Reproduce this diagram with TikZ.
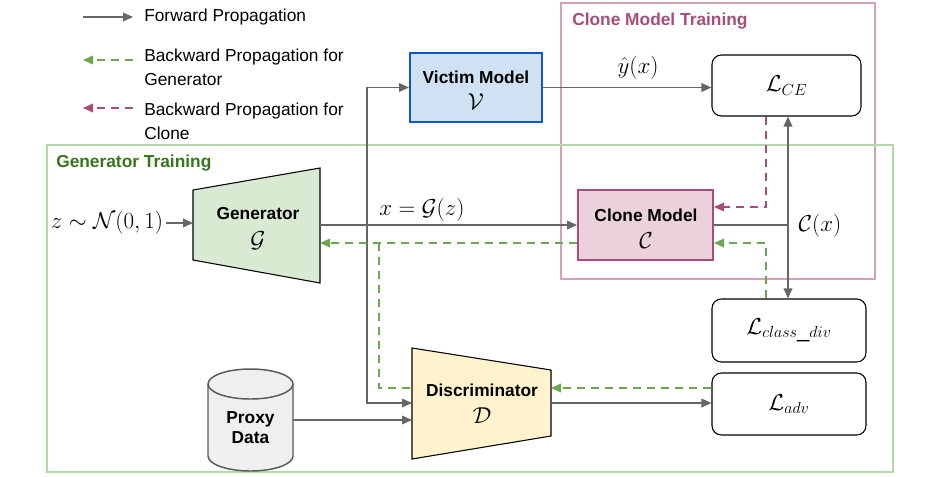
\documentclass[tikz,border=0pt]{standalone}
\usepackage[no-math]{fontspec}
\setmainfont{Liberation Sans}
\usetikzlibrary{arrows.meta}
\definecolor{lineg}{HTML}{666666}
\definecolor{bgreen}{HTML}{6AA84F}
\definecolor{bpurp}{HTML}{A64D79}
\definecolor{gframe}{HTML}{B6D7A8}
\definecolor{pframe}{HTML}{CFA2BA}
\definecolor{gtitle}{HTML}{38761D}
\definecolor{ptitle}{HTML}{A64D79}
\definecolor{vfill}{HTML}{CFE2F3}
\definecolor{vdraw}{HTML}{1155CC}
\definecolor{cfill}{HTML}{EAD1DC}
\definecolor{gfill}{HTML}{D9EAD3}
\definecolor{dfill}{HTML}{FFF2CC}
\definecolor{pfill}{HTML}{EFEFEF}
\definecolor{cyldraw}{HTML}{595959}
\tikzset{
  tip/.style={-{Triangle[length=7.5pt,width=6.5pt]}},
  fwd/.style={draw=lineg, line width=1.1pt, tip},
  fline/.style={draw=lineg, line width=1.1pt},
  bwdg/.style={draw=bgreen, line width=1.1pt, dash pattern=on 6pt off 4.5pt, tip},
  bwdgn/.style={draw=bgreen, line width=1.1pt, dash pattern=on 6pt off 4.5pt},
  bwdp/.style={draw=bpurp, line width=1.1pt, dash pattern=on 6pt off 4.5pt, tip},
  frame/.style={line width=0.8pt},
  lossbox/.style={draw=black, line width=0.8pt, rounded corners=7pt, inner sep=0pt},
  modelbox/.style={line width=1.5pt, inner sep=0pt},
  ghost/.style={inner sep=0pt, outer sep=0pt},
  lbl/.style={inner sep=0pt, font=\fontsize{13}{15.6}\selectfont\bfseries},
  mth/.style={inner sep=0pt, font=\fontsize{16.5}{19}\selectfont},
  legtxt/.style={inner sep=0pt, anchor=west, align=left, font=\fontsize{13}{18}\selectfont},
  title/.style={inner sep=0pt, anchor=west, font=\fontsize{13}{15.6}\selectfont\bfseries},
}
\begin{document}
\begin{tikzpicture}[x=0.75pt,y=-0.75pt]
\useasboundingbox (0,0) rectangle (942,476);

% frames
\draw[frame, draw=pframe] (561,3) rectangle (875,279);
\draw[frame, draw=gframe] (47,145) rectangle (893,472);
\node[title, text=ptitle] (ptit) at (572,21) {Clone Model Training};
\node[title, text=gtitle] (gtit) at (56,163) {Generator Training};

% legend
\coordinate (lf1) at (83,17); \coordinate (lf2) at (133,17);
\draw[fwd] (lf1) -- (lf2);
\node[legtxt] (legf) at (144,17) {Forward Propagation};
\coordinate (lg1) at (133,60); \coordinate (lg2) at (83,60);
\draw[bwdg] (lg1) -- (lg2);
\node[legtxt] (legg) at (144,67) {Backward Propagation for\\Generator};
\coordinate (lp1) at (133,108); \coordinate (lp2) at (83,108);
\draw[bwdp] (lp1) -- (lp2);
\node[legtxt] (legp) at (144,121) {Backward Propagation for\\Clone};

% generator trapezoid
\draw[fill=gfill, draw=black, line width=0.8pt] (193,190) -- (320,168) -- (320,283) -- (193,260) -- cycle;
\node[ghost, minimum width=95.25pt, minimum height=86.25pt] (gen) at (256.5,225) {};
\node[lbl] (gent) at (258,214) {Generator};
\node[mth] (gens) at (258,241) {$\mathcal{G}$};

% discriminator trapezoid
\draw[fill=dfill, draw=black, line width=0.8pt] (412,348) -- (551,370) -- (551,436) -- (412,459) -- cycle;
\node[ghost, minimum width=104.25pt, minimum height=83.25pt] (disc) at (481.5,403.5) {};
\node[lbl] (disct) at (482,390) {Discriminator};
\node[mth] (discs) at (482,416) {$\mathcal{D}$};

% proxy data cylinder
\draw[fill=pfill, draw=cyldraw, line width=1.1pt]
  (208,384) -- (208,456) arc[start angle=180, end angle=0, x radius=42.5, y radius=15]
  -- (293,384) arc[start angle=0, end angle=-180, x radius=42.5, y radius=15] -- cycle;
\draw[draw=cyldraw, line width=1.1pt] (208,384) arc[start angle=180, end angle=0, x radius=42.5, y radius=15];
\node[ghost, minimum width=63.75pt, minimum height=76.5pt] (proxy) at (250.5,420) {};
\node[lbl, align=center, font=\fontsize{13}{15}\selectfont\bfseries] (proxyt) at (250.5,428) {Proxy\\Data};

% model boxes
\node[modelbox, fill=vfill, draw=vdraw, minimum width=99pt, minimum height=51.75pt] (victim) at (476,87.5) {};
\node[lbl] (victt) at (476,77) {Victim Model};
\node[mth] (victs) at (476,102) {$\mathcal{V}$};
\node[modelbox, fill=cfill, draw=bpurp, minimum width=101.25pt, minimum height=52.5pt] (clone) at (645.5,225) {};
\node[lbl] (clonet) at (646,215) {Clone Model};
\node[mth] (clones) at (646,241) {$\mathcal{C}$};

% loss boxes
\node[lossbox, minimum width=111.75pt, minimum height=45.75pt, font=\fontsize{16.5}{19}\selectfont] (lce) at (786.5,85.5) {$\mathcal{L}_{CE}$};
\node[lossbox, minimum width=115.5pt, minimum height=47.25pt, font=\fontsize{16.5}{19}\selectfont] (lcd) at (789,330.5) {$\mathcal{L}_{class\_div}$};
\node[lossbox, minimum width=115.5pt, minimum height=46.5pt, font=\fontsize{16.5}{19}\selectfont] (ladv) at (789,404) {$\mathcal{L}_{adv}$};

% math labels
\node[mth] (zlbl) at (107,223) {$z\sim\mathcal{N}(0,1)$};
\node[mth] (xlbl) at (422,210) {$x=\mathcal{G}(z)$};
\node[mth] (ylbl) at (638,68) {$\hat{y}(x)$};
\node[mth] (cxlbl) at (820,226) {$\mathcal{C}(x)$};

% forward connectors
\coordinate (split) at (367,225);
\coordinate (dinA) at (412,403);
\coordinate (pin) at (412,420);
\coordinate (dout) at (551,403);
\coordinate (cx) at (788,225);
\draw[fwd] (zlbl.east) ++(3,0) -- (zlbl.east -| gen.west);
\draw[fwd] (gen.east) -- (clone.west);
\draw[fwd] (split) |- (victim.west);
\draw[fwd] (split) |- (dinA);
\draw[fwd] (victim.east) -- (victim.east -| lce.west);
\draw[fwd] (proxy.east |- pin) -- (pin);
\draw[fwd] (dout) -- (ladv.west |- dout);
\draw[fline] (clone.east) -- (cx);
\draw[fwd] (cx) -- (cx |- lce.south);
\draw[fwd] (cx) -- (cx |- lcd.north);

% backward connectors
\coordinate (pcol) at (766,207);
\coordinate (gcol) at (766,243);
\coordinate (gleft) at (379,243);
\coordinate (dinG) at (412,388);
\coordinate (doutg) at (551,388);
\draw[bwdp] (lce.south -| pcol) |- (clone.east |- pcol);
\draw[bwdg] (lcd.north -| gcol) |- (clone.east |- gcol);
\draw[bwdg] (clone.west |- gcol) -- (gen.east |- gcol);
\draw[bwdgn] (gleft) |- (dinG);
\draw[bwdg] (ladv.west |- doutg) -- (doutg);
\end{tikzpicture}
\end{document}
